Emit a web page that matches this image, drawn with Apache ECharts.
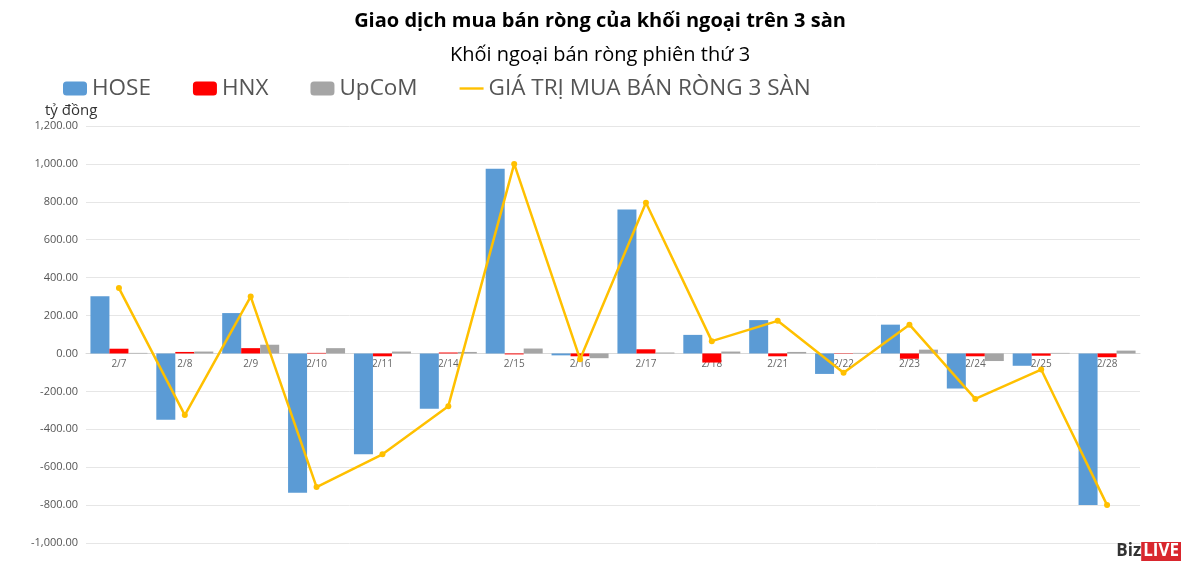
<!DOCTYPE html>
<html>
<head>
<meta charset="utf-8">
<script src="https://cdn.jsdelivr.net/npm/echarts@6/dist/echarts.min.js"></script>
<style>
  html, body { margin: 0; padding: 0; background: #fff; }
  #chart { width: 1200px; height: 574px; }
</style>
</head>
<body>
<div id="chart"></div>
<script>
const days = ['2/7', '2/8', '2/9', '2/10', '2/11', '2/14', '2/15', '2/16', '2/17', '2/18', '2/21', '2/22', '2/23', '2/24', '2/25', '2/28'];
const hose = [302, -350, 213, -735, -532, -292, 975, -10, 760, 98, 176, -108, 152, -185, -65, -800];
const hnx = [25, 8, 28, 3, -15, 5, -5, -15, 22, -48, -15, 2, -28, -15, -12, -20];
const upcom = [3, 10, 46, 28, 10, 8, 26, -25, 5, 10, 8, 3, 20, -40, 3, 15];
const total = [345, -325, 300, -705, -532, -278, 1000, -30, 795, 65, 172, -102, 152, -240, -85, -800];

const fmt = (v) => v.toLocaleString('en-US', {minimumFractionDigits: 2, maximumFractionDigits: 2});

const chart = echarts.init(document.getElementById('chart'));
chart.setOption({
    textStyle: {fontFamily: 'Open Sans'},
    title: [
        {
            text: 'Giao dịch mua bán ròng của khối ngoại trên 3 sàn',
            left: 'center',
            top: 6,
            textStyle: {fontSize: 20, fontWeight: 'bold', color: '#000'},
        },
        {
            text: 'Khối ngoại bán ròng phiên thứ 3',
            left: 'center',
            top: 40,
            textStyle: {fontSize: 20, fontWeight: 'normal', color: '#000'},
        },
        {
            text: 'tỷ đồng',
            left: 40,
            top: 98,
            textStyle: {fontSize: 15, fontWeight: 'normal', color: '#333'},
        },
        {
            text: 'Biz{l|LIVE}',
            right: 14,
            bottom: 8,
            textStyle: {
                fontSize: 17, fontWeight: 'bold', color: '#333',
                rich: {l: {fontSize: 17, fontWeight: 'bold', color: '#fff', backgroundColor: '#d9272e', padding: [1, 2]}},
            },
        },
    ],
    legend: {
        left: 58,
        top: 72,
        itemWidth: 24,
        itemHeight: 14,
        itemGap: 42,
        textStyle: {fontSize: 22.5, color: '#555'},
        data: ['HOSE', 'HNX', 'UpCoM', {name: 'GIÁ TRỊ MUA BÁN RÒNG 3 SÀN', icon: 'path://M0,5L10,5L10,6L0,6Z'}],
    },
    grid: {left: 86, right: 60, top: 126, bottom: 31},
    xAxis: {
        type: 'category',
        data: days,
        offset: -190,
        axisLine: {lineStyle: {color: '#d9d9d9'}},
        axisTick: {show: false},
        axisLabel: {color: '#666', fontSize: 10, margin: 6},
    },
    yAxis: {
        type: 'value',
        min: -1000,
        max: 1200,
        interval: 200,
        axisLabel: {color: '#555', fontSize: 11, formatter: fmt},
        splitLine: {lineStyle: {color: '#e6e6e6'}},
        axisLine: {show: false},
    },
    series: [
        {name: 'HOSE', type: 'bar', data: hose, itemStyle: {color: '#5b9bd5'}, barWidth: 19, barGap: '0%', barCategoryGap: '10%'},
        {name: 'HNX', type: 'bar', data: hnx, itemStyle: {color: '#ff0000'}, barWidth: 19},
        {name: 'UpCoM', type: 'bar', data: upcom, itemStyle: {color: '#a5a5a5'}, barWidth: 19},
        {
            name: 'GIÁ TRỊ MUA BÁN RÒNG 3 SÀN', type: 'line', data: total,
            symbol: 'circle', symbolSize: 6,
            lineStyle: {color: '#ffc000', width: 2.5},
            itemStyle: {color: '#ffc000'},
        },
    ],
});
</script>
</body>
</html>
